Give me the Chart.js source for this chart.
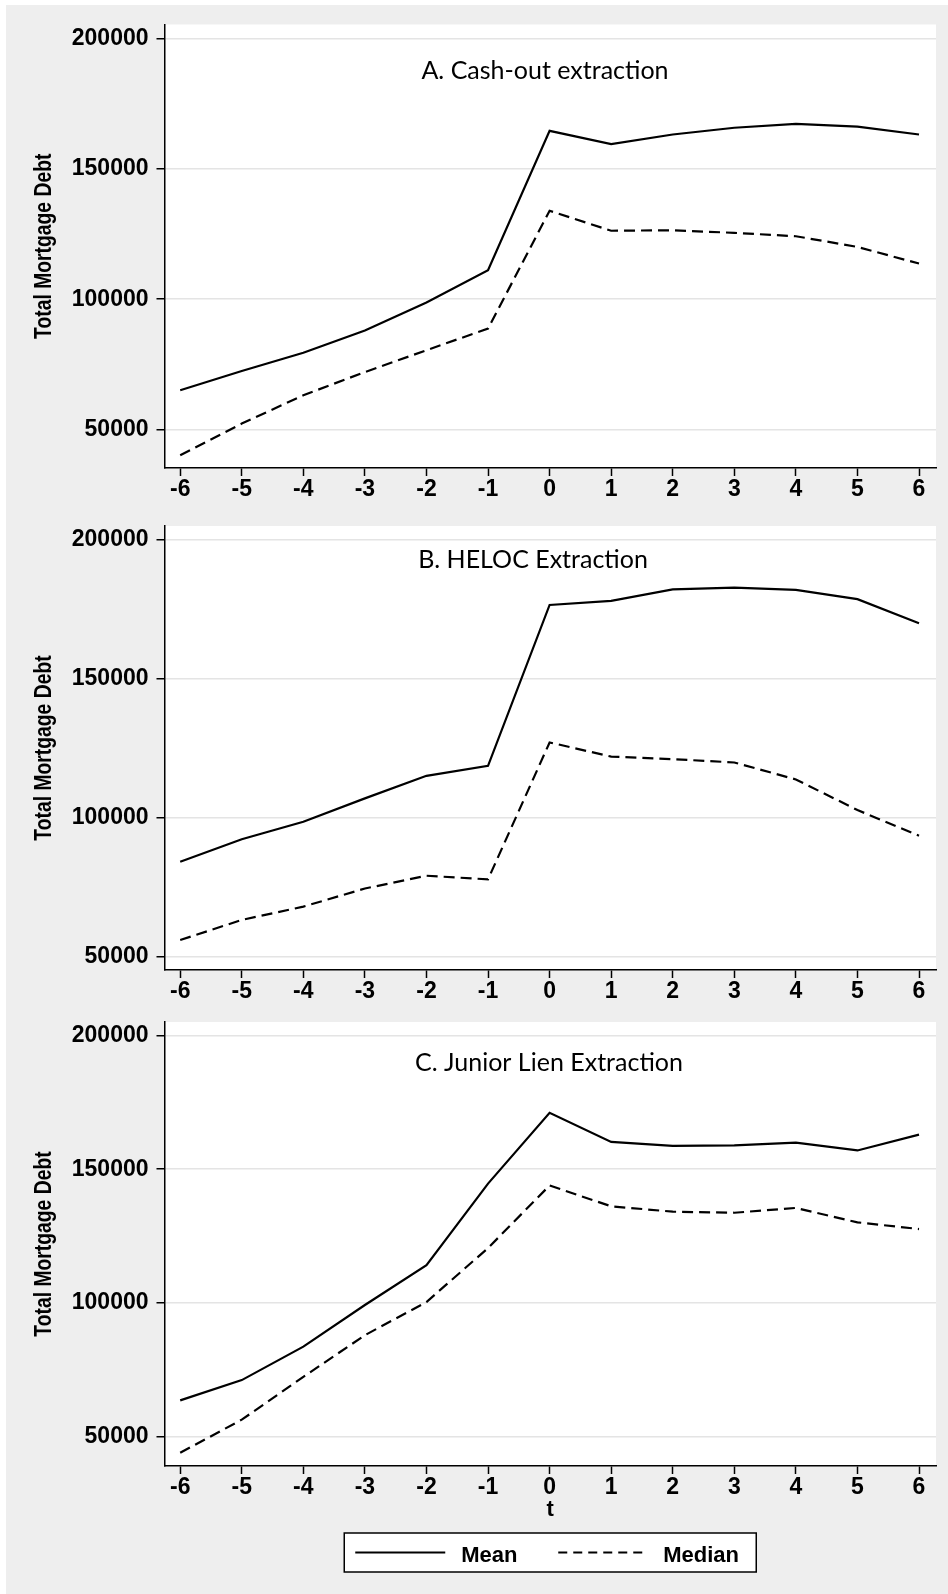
<!DOCTYPE html>
<html>
<head>
<meta charset="utf-8">
<script src="https://cdn.jsdelivr.net/npm/chart.js@4.4.1/dist/chart.umd.min.js"></script>
<style>
  html, body { margin: 0; padding: 0; background: #ffffff; }
  body { width: 948px; height: 1594px; position: relative; overflow: hidden; }
  #bg { position: absolute; left: 6px; top: 5px; right: 0; bottom: 0; background: #eeeeee; }
  canvas { position: absolute; left: 0; }
</style>
</head>
<body>
<div id="bg"></div>
<canvas id="panelA" width="948" height="500" style="top:0px"></canvas>
<canvas id="panelB" width="948" height="500" style="top:500px"></canvas>
<canvas id="panelC" width="948" height="594" style="top:1000px"></canvas>
<script>
// Event time (quarters relative to extraction)
const periods = [-6, -5, -4, -3, -2, -1, 0, 1, 2, 3, 4, 5, 6];
const yTickValues = [50000, 100000, 150000, 200000];

// A. Cash-out refinance
const cashoutMean   = [65000, 72400, 79400, 88000, 98700, 111100, 164700, 159600, 163300, 165900, 167400, 166300, 163300];
const cashoutMedian = [40000, 52200, 63100, 72000, 80400, 88700, 134000, 126300, 126500, 125500, 124200, 120100, 113700];

// B. HELOC
const helocMean   = [84100, 92200, 98500, 106900, 115000, 118600, 176400, 177900, 182000, 182600, 181800, 178500, 169800];
const helocMedian = [56000, 63200, 68000, 74500, 79100, 77800, 127000, 121900, 121000, 119800, 113700, 102700, 93500];

// C. Junior lien
const juniorMean   = [63500, 71100, 83600, 99200, 114100, 144600, 171100, 160200, 158700, 158900, 159900, 157000, 162900];
const juniorMedian = [43900, 56300, 72300, 87900, 100300, 120500, 143900, 136100, 134100, 133700, 135500, 130100, 127600];

const seriesNames = ['Mean', 'Median'];
const panelTitles = ['A. Cash-out extraction', 'B. HELOC Extraction', 'C. Junior Lien Extraction'];
const yAxisTitle = 'Total Mortgage Debt';
const xAxisTitle = 't';

const TICK_FONT = { family: "'Liberation Sans', Arial, sans-serif", size: 23, weight: 'bold', lineHeight: 1.2 };

// white plot region
const plotBackground = {
  id: 'plotBackground',
  beforeDraw(chart) {
    const { ctx, chartArea: a } = chart;
    ctx.save();
    ctx.fillStyle = '#ffffff';
    ctx.fillRect(a.left, a.top, a.right - a.left, a.bottom - a.top);
    ctx.restore();
  }
};

// panel caption written inside the plot region
const panelCaption = {
  id: 'panelCaption',
  afterDatasetsDraw(chart, args, opts) {
    if (!opts.text) return;
    const { ctx } = chart;
    ctx.save();
    ctx.fillStyle = '#000000';
    ctx.font = "25px Lato, 'Open Sans', sans-serif";
    ctx.textAlign = 'center';
    ctx.textBaseline = 'alphabetic';
    ctx.fillText(opts.text, opts.x, opts.y);
    ctx.restore();
  }
};

// condensed, rotated y-axis title centred on the plot region
const condensedYTitle = {
  id: 'condensedYTitle',
  afterDraw(chart, args, opts) {
    if (!opts.text) return;
    const { ctx, chartArea: a } = chart;
    ctx.save();
    ctx.translate(opts.baselineX, (a.top + a.bottom) / 2);
    ctx.rotate(-Math.PI / 2);
    ctx.scale(opts.condense, 1);
    ctx.fillStyle = '#000000';
    ctx.font = "bold 23px 'Liberation Sans', Arial, sans-serif";
    ctx.textAlign = 'center';
    ctx.textBaseline = 'alphabetic';
    ctx.fillText(opts.text, 0, 0);
    ctx.restore();
  }
};

// boxed legend below the last panel
const boxedLegend = {
  id: 'boxedLegend',
  afterDraw(chart, args, opts) {
    if (!opts.display) return;
    const { ctx, chartArea: a } = chart;
    const cx = (a.left + a.right) / 2;
    const top = opts.top, h = opts.height, halfW = opts.halfWidth;
    ctx.save();
    ctx.fillStyle = '#ffffff';
    ctx.fillRect(cx - halfW, top, halfW * 2, h);
    ctx.strokeStyle = '#000000';
    ctx.lineWidth = 1.5;
    ctx.strokeRect(cx - halfW, top, halfW * 2, h);
    const midY = top + h / 2;
    const items = [
      { ds: chart.data.datasets[0], lineFrom: -195, textAt: -89 },
      { ds: chart.data.datasets[1], lineFrom: 8, textAt: 113 }
    ];
    ctx.font = "bold 22px 'Liberation Sans', Arial, sans-serif";
    ctx.textAlign = 'left';
    ctx.textBaseline = 'alphabetic';
    items.forEach(it => {
      ctx.beginPath();
      ctx.setLineDash(it.ds.borderDash ? [9, 6] : []);
      ctx.lineWidth = it.ds.borderWidth;
      ctx.strokeStyle = it.ds.borderColor;
      ctx.moveTo(cx + it.lineFrom, midY);
      ctx.lineTo(cx + it.lineFrom + 90, midY);
      ctx.stroke();
      ctx.setLineDash([]);
      ctx.fillStyle = '#000000';
      ctx.fillText(it.ds.label, cx + it.textAt, midY + 9);
    });
    ctx.restore();
  }
};

function makePanel(canvasId, meanVals, medianVals, cfg) {
  const toPoints = vals => periods.map((t, i) => ({ x: t, y: vals[i] }));
  return new Chart(document.getElementById(canvasId), {
    type: 'line',
    data: {
      datasets: [
        { label: seriesNames[0], data: toPoints(meanVals), borderColor: '#000000', borderWidth: 2.2,
          pointRadius: 0, tension: 0, fill: false },
        { label: seriesNames[1], data: toPoints(medianVals), borderColor: '#000000', borderWidth: 2.2,
          borderDash: [11, 6], pointRadius: 0, tension: 0, fill: false }
      ]
    },
    options: {
      responsive: false,
      animation: false,
      devicePixelRatio: 1,
      layout: { padding: { top: cfg.padTop, right: 12, bottom: cfg.padBottom, left: 0 } },
      plugins: {
        legend: { display: false },
        tooltip: { enabled: false },
        panelCaption: { text: cfg.title, x: cfg.titleX, y: cfg.titleY },
        condensedYTitle: { text: yAxisTitle, baselineX: 50.5, condense: 0.84 },
        boxedLegend: { display: !!cfg.legend, top: 533, height: 39, halfWidth: 206 }
      },
      scales: {
        x: {
          type: 'linear',
          min: -6.255, max: 6.276,
          afterBuildTicks: s => { s.ticks = periods.map(v => ({ value: v })); },
          afterFit: s => { s.height = cfg.xAxisHeight; },
          grid: { drawOnChartArea: false, drawTicks: true, tickLength: 8, tickColor: '#000000', tickWidth: 1.5 },
          border: { display: true, color: '#000000', width: 1.5 },
          ticks: { color: '#000000', font: TICK_FONT, padding: 0, maxRotation: 0, autoSkip: false,
                   callback: v => String(v) },
          title: { display: !!cfg.xTitle, text: xAxisTitle, color: '#000000',
                   font: { family: "'Liberation Sans', Arial, sans-serif", size: 22, weight: 'bold', lineHeight: 1.2 },
                   padding: { top: 0, bottom: 0 } }
        },
        y: {
          type: 'linear',
          min: cfg.yMin, max: cfg.yMax,
          afterBuildTicks: s => { s.ticks = yTickValues.map(v => ({ value: v })); },
          afterFit: s => { s.width = 164.5; },
          grid: { drawOnChartArea: true, color: '#e4e4e4', lineWidth: 1.5, drawTicks: true,
                  tickLength: 8, tickColor: '#000000', tickWidth: 1.5 },
          border: { display: true, color: '#000000', width: 1.5 },
          ticks: { color: '#000000', font: TICK_FONT, padding: 8, autoSkip: false,
                   callback: v => String(v) },
          title: { display: false }
        }
      }
    },
    plugins: [plotBackground, panelCaption, condensedYTitle, boxedLegend]
  });
}

makePanel('panelA', cashoutMean, cashoutMedian, {
  padTop: 24.5, padBottom: 0, xAxisHeight: 32, yMin: 35127, yMax: 205573,
  title: panelTitles[0], titleX: 545, titleY: 79.3
});
makePanel('panelB', helocMean, helocMedian, {
  padTop: 26, padBottom: 0, xAxisHeight: 30, yMin: 45220, yMax: 204780,
  title: panelTitles[1], titleX: 533, titleY: 68
});
makePanel('panelC', juniorMean, juniorMedian, {
  padTop: 22, padBottom: 71, xAxisHeight: 57, yMin: 38965, yMax: 205050,
  title: panelTitles[2], titleX: 549, titleY: 71.3, xTitle: true, legend: true
});
</script>
</body>
</html>
